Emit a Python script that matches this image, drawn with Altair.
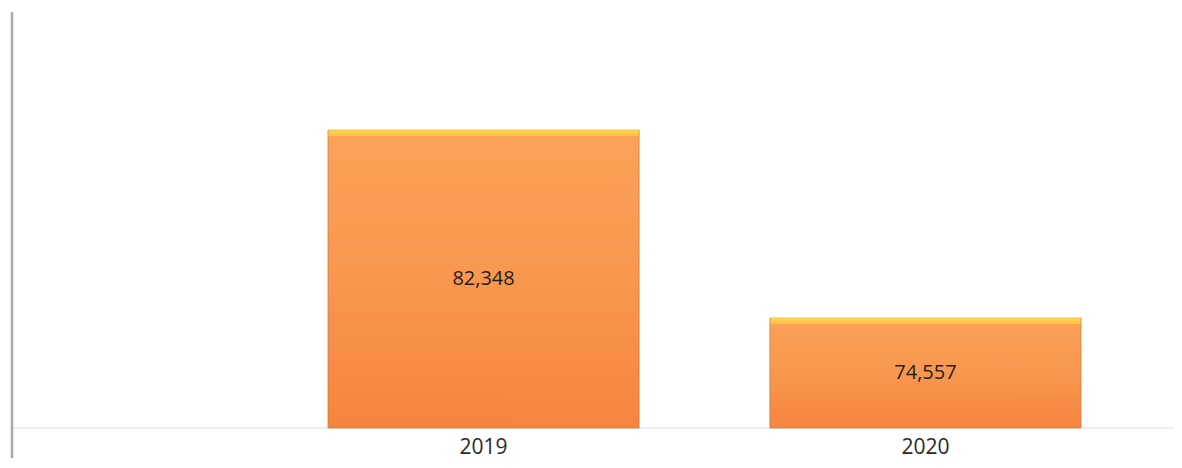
import altair as alt
import pandas as pd

years = ["2019", "2020"]
values = [82348, 74557]
labels = ["82,348", "74,557"]
BASE = 70000

df = pd.DataFrame({"year": years, "value": values, "label": labels})

W, H = 1166, 450

x = alt.X("year:N", sort=years,
          scale=alt.Scale(range=[320, 1073], paddingInner=0.296, paddingOuter=0),
          axis=alt.Axis(title=None, domain=False, ticks=False, labelAngle=0,
                        labelFontSize=21, labelFont="Open Sans", labelColor="#2a2a2a",
                        labelPadding=0, labelBaseline="top", offset=-(H - 428), orient="bottom"))
yscale = alt.Scale(domain=[BASE, 87000], range=[420, 10], zero=False, nice=False, clamp=True)

base = alt.Chart(df)

grad = alt.Gradient(gradient="linear",
                    stops=[alt.GradientStop(color="#fca258", offset=0),
                           alt.GradientStop(color="#f9974f", offset=0.5),
                           alt.GradientStop(color="#f5843e", offset=1)],
                    x1=0, x2=0, y1=0, y2=1)

bars = base.mark_bar(color=grad, stroke="#c98040", strokeWidth=1, strokeOpacity=0.8).encode(
    x=x,
    y=alt.Y("value:Q", scale=yscale, axis=None),
    y2=alt.datum(BASE),
)

topgrad = alt.Gradient(gradient="linear",
                       stops=[alt.GradientStop(color="#ffd84e", offset=0),
                              alt.GradientStop(color="#fdbf45", offset=1)],
                       x1=0, x2=0, y1=0, y2=1)

bevel = base.mark_tick(color=topgrad, thickness=6, size=310, yOffset=3, opacity=1).encode(
    x=alt.X("year:N", sort=years),
    y=alt.Y("value:Q", scale=yscale, axis=None),
)

text = base.transform_calculate(mid=f"(datum.value + {BASE}) / 2").mark_text(
    font="Open Sans", fontSize=20, color="#1e1e1e", align="center", baseline="middle"
).encode(
    x=alt.X("year:N", sort=years),
    y=alt.Y("mid:Q", scale=yscale, axis=None),
    text="label:N",
)

baseline = alt.Chart(pd.DataFrame({"b": [BASE]})).mark_rule(color="#eeeeee", strokeWidth=2).encode(
    y=alt.Y("b:Q", scale=yscale, axis=None),
    x=alt.value(3), x2=alt.value(W),
)

border = alt.Chart(pd.DataFrame({"b": [0]})).mark_rule(color="#a9a9a9", strokeWidth=2.5).encode(
    x=alt.value(4), y=alt.value(4), y2=alt.value(H),
)

chart = alt.layer(baseline, bars, bevel, text, border).properties(
    width=W, height=H, padding=0, autosize=alt.AutoSizeParams(type="none"),
    view=alt.ViewBackground(stroke="white", strokeWidth=0, fill="white"),
).configure_view(strokeWidth=0, stroke="white").configure(background="white")

chart.save("out.html", embed_options={"renderer": "svg", "actions": False})
